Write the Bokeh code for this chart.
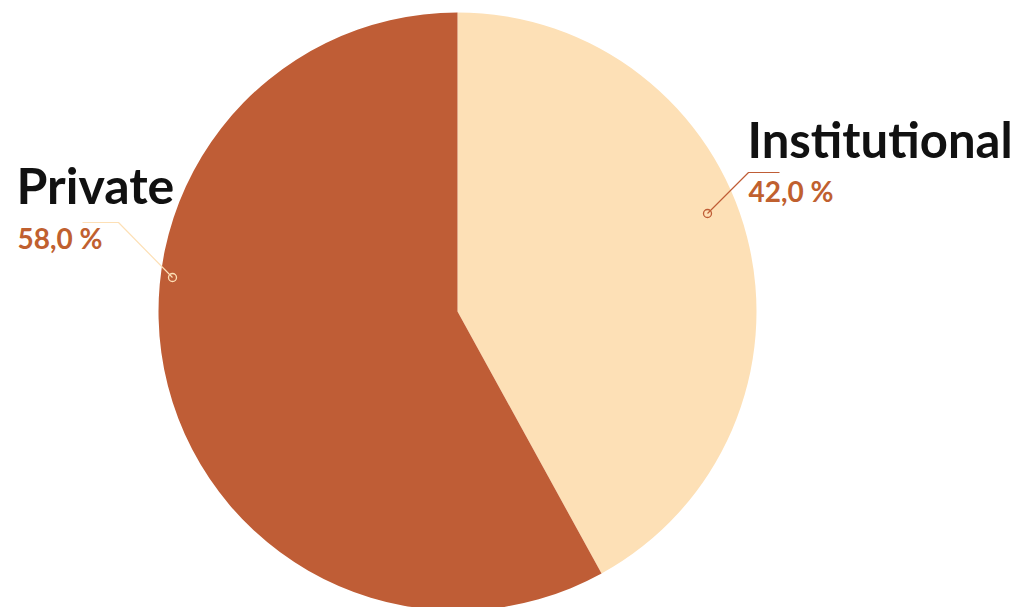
import math
from bokeh.plotting import figure
from bokeh.models import Range1d
from bokeh.core.properties import value
from bokeh.embed import file_html
from bokeh.resources import INLINE

# ---- data ----
categories = ["Institutional", "Private"]
values = [42.0, 58.0]
colors = ["#fde0b6", "#bf5d36"]
line_colors = ["#bf5d36", "#fde0b6"]
pct_labels = ["42,0 %", "58,0 %"]

# ---- layout ----
W, H = 1017, 607
CX, CY, R = 457, 311, 299  # y measured from top

def sy(y):
    return H - y

p = figure(width=W, height=H, output_backend="svg", toolbar_location=None,
           x_range=Range1d(0, W), y_range=Range1d(0, H), min_border=0)
p.axis.visible = False
p.grid.visible = False
p.outline_line_color = None
p.background_fill_color = "white"

total = sum(values)
start = math.pi / 2
for v, c in zip(values, colors):
    end = start - v / total * 2 * math.pi
    p.wedge(x=CX, y=sy(CY), radius=R, start_angle=end, end_angle=start,
            fill_color=c, line_color=None, direction="anticlock")
    start = end

# label annotation layout: dot, elbow, end, name pos, pct pos
ann = [
    dict(dot=(707, 213), elbow=(748, 172), end=(779, 172),
         name=(747, 138, 49), pct=(748, 190, 28)),
    dict(dot=(172, 277), elbow=(118, 222), end=(82, 222),
         name=(16, 184, 50), pct=(17, 237, 28)),
]

for cat, lc, pl, a in zip(categories, line_colors, pct_labels, ann):
    xs = [a["dot"][0], a["elbow"][0], a["end"][0]]
    ys = [sy(a["dot"][1]), sy(a["elbow"][1]), sy(a["end"][1])]
    p.line(xs, ys, line_color=lc, line_width=1.2)
    p.scatter(x=[a["dot"][0]], y=[sy(a["dot"][1])], size=8, marker="circle",
              fill_color=None, line_color=lc, line_width=1.3)
    nx, ny, nfs = a["name"]
    p.text(x=[nx], y=[sy(ny)], text=[cat], text_font=value("Lato"),
           text_font_style="bold", text_font_size=f"{nfs}px",
           text_color="#111111", text_baseline="alphabetic", text_align="left")
    px_, py_, pfs = a["pct"]
    p.text(x=[px_], y=[sy(py_)], text=[pl], text_font=value("Lato"),
           text_font_style="bold", text_font_size=f"{pfs}px",
           text_color="#c0602f", text_baseline="alphabetic", text_align="left")

open("out.html", "w").write(file_html(p, INLINE))
